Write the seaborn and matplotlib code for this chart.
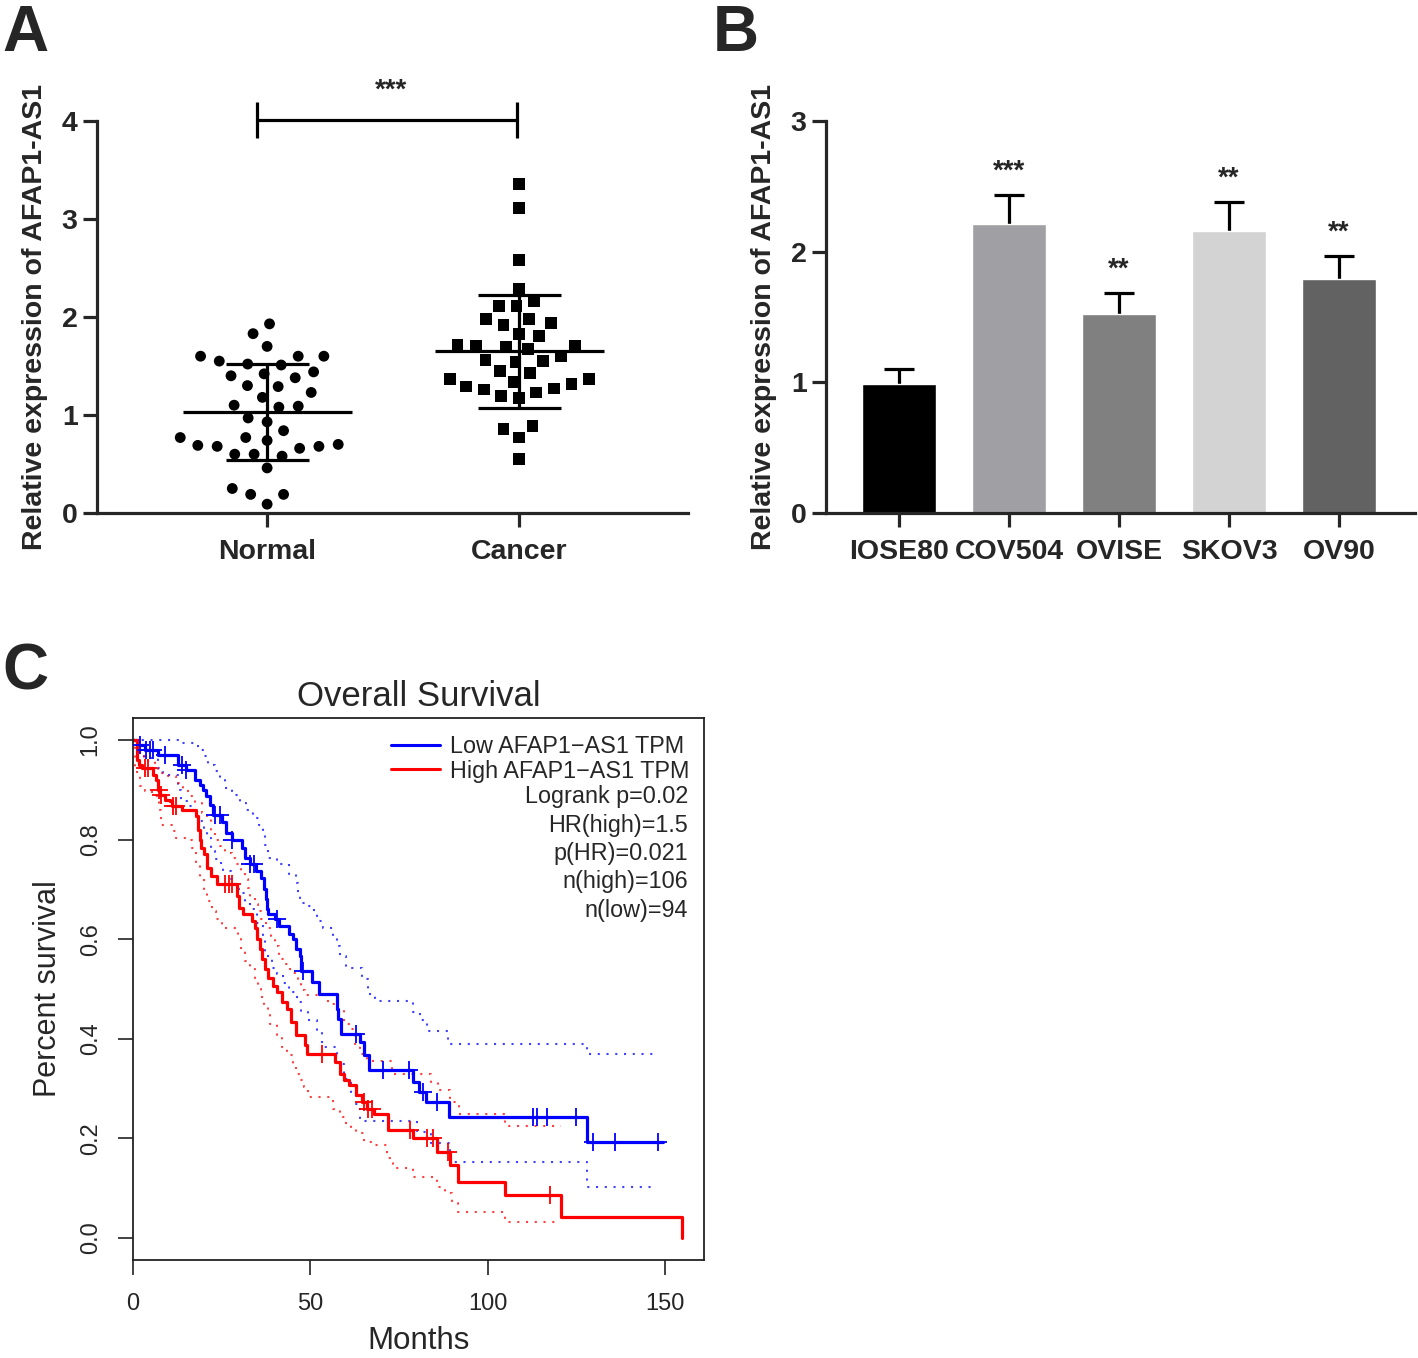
import matplotlib
matplotlib.use("Agg")
import matplotlib.pyplot as plt
from matplotlib.lines import Line2D
import seaborn as sns
import numpy as np
import pandas as pd

# ---- A: scatter, relative expression ----
normal_vals = [1.93, 1.83, 1.70, 1.55, 1.60, 1.60, 1.60, 1.52, 1.51, 1.42, 1.38, 1.44, 1.40,
               1.29, 1.30, 1.23, 1.18, 1.08, 1.09, 1.10, 0.93, 0.97, 0.84, 0.77, 0.74, 0.77,
               0.69, 0.68, 0.66, 0.68, 0.70, 0.58, 0.60, 0.60, 0.46, 0.25, 0.19, 0.19, 0.09]
cancer_vals = [3.36, 3.11, 2.58, 2.29, 2.11, 2.11, 2.16, 1.94, 1.98, 1.92, 1.98, 1.81, 1.83,
               1.71, 1.72, 1.67, 1.71, 1.69, 1.55, 1.54, 1.45, 1.60, 1.56, 1.37, 1.29, 1.34,
               1.26, 1.43, 1.32, 1.37, 1.27, 1.17, 1.19, 1.23, 0.89, 0.86, 0.77, 0.55]
groups = ["Normal", "Cancer"]

# ---- B: bars, cell lines ----
cell_lines = ["IOSE80", "COV504", "OVISE", "SKOV3", "OV90"]
cell_means = [0.99, 2.21, 1.52, 2.16, 1.79]
cell_sd = [0.11, 0.22, 0.16, 0.22, 0.18]
cell_colors = ["#000000", "#A0A0A4", "#808080", "#D3D3D3", "#626262"]
cell_stars = ["", "***", "**", "**", "**"]

# ---- C: Kaplan-Meier (months, survival) ----
low_t = [0, 1.5, 3.5, 7, 12.8, 15, 17.5, 19, 19.8, 20.6, 21.6, 22.6, 25, 26.3, 28, 30.6, 31.6,
         33, 34.6, 36, 37, 37.4, 37.8, 38.2, 40, 41.2, 44, 45, 46, 47, 47.4, 50.5, 52.5, 57.4,
         57.9, 58.6, 64, 65, 66.5, 79, 80.7, 82.5, 89, 128, 149.5]
low_s = [1.0, 0.99, 0.98, 0.97, 0.95, 0.94, 0.92, 0.91, 0.90, 0.887, 0.87, 0.85, 0.835, 0.814,
         0.80, 0.783, 0.763, 0.75, 0.737, 0.723, 0.70, 0.68, 0.66, 0.65, 0.64, 0.627, 0.61, 0.60,
         0.58, 0.566, 0.537, 0.514, 0.49, 0.46, 0.44, 0.41, 0.393, 0.367, 0.337, 0.313, 0.293,
         0.273, 0.243, 0.193, 0.193]
low_up_t = [0, 13, 18.4, 20, 21.2, 23, 24.5, 26, 28, 30.2, 32, 33.9, 35.5, 36.7, 37.2, 38.2,
            40.5, 44, 46, 46.6, 47.2, 48.5, 51, 52, 53.7, 56.5, 57.5, 58.5, 60, 64.5, 66.3,
            68.2, 79, 81, 82.8, 88.9, 128, 148]
low_up_s = [1.0, 0.993, 0.98, 0.967, 0.95, 0.937, 0.92, 0.903, 0.89, 0.873, 0.86, 0.843, 0.83,
            0.817, 0.79, 0.763, 0.75, 0.73, 0.713, 0.69, 0.673, 0.667, 0.653, 0.637, 0.622,
            0.603, 0.587, 0.567, 0.543, 0.52, 0.49, 0.475, 0.453, 0.437, 0.415, 0.39, 0.37, 0.37]
low_lo_t = [0, 1.5, 3, 7.1, 8.5, 10, 12.8, 13.6, 15.1, 16.5, 17.5, 19, 20, 20.8, 22, 23, 24.3,
            25.5, 27.5, 28.3, 29.5, 30.2, 31.6, 33, 35, 36.7, 37.3, 39.1, 40.5, 42.4, 44, 45.2,
            46.2, 47.5, 49.4, 52, 53.2, 57.5, 59.5, 61.5, 63, 64, 80, 84, 89.5, 128, 146]
low_lo_s = [1.0, 0.98, 0.963, 0.943, 0.933, 0.93, 0.90, 0.877, 0.867, 0.857, 0.847, 0.837,
            0.823, 0.803, 0.777, 0.76, 0.753, 0.737, 0.72, 0.71, 0.70, 0.693, 0.673, 0.66,
            0.633, 0.60, 0.567, 0.543, 0.53, 0.513, 0.50, 0.493, 0.473, 0.453, 0.437, 0.413,
            0.383, 0.35, 0.32, 0.29, 0.27, 0.235, 0.213, 0.19, 0.152, 0.102, 0.102]
low_cens = [2, 3.8, 4.7, 5.6, 9, 13.8, 15, 23, 24.5, 28, 33, 34, 40.5, 48, 63, 70.6, 77.9,
            81.8, 85.8, 112.9, 113.8, 116.6, 124.8, 129.8, 135.9, 148.1]

high_t = [0, 1, 1.6, 2.5, 5.5, 6.5, 7, 7.6, 9, 10.5, 11, 13.7, 17.7, 18.2, 18.8, 19.3, 20, 21,
          22, 23.6, 29.2, 30, 31, 33.5, 34.3, 35, 35.7, 36.5, 37.3, 38, 39.5, 40.5, 42, 43.5,
          44.5, 46, 48.5, 49.2, 57, 58.3, 59.5, 61, 63, 64.5, 66, 68, 72, 79, 85.8, 89.5, 91.7,
          105, 120.8, 154.7]
high_s = [1.0, 0.96, 0.95, 0.943, 0.93, 0.92, 0.90, 0.89, 0.88, 0.877, 0.867, 0.86, 0.847,
          0.82, 0.80, 0.783, 0.77, 0.743, 0.727, 0.71, 0.687, 0.663, 0.65, 0.637, 0.623, 0.60,
          0.58, 0.56, 0.54, 0.523, 0.507, 0.493, 0.473, 0.46, 0.433, 0.407, 0.387, 0.37, 0.353,
          0.33, 0.317, 0.307, 0.287, 0.273, 0.26, 0.25, 0.217, 0.20, 0.173, 0.147, 0.113,
          0.087, 0.043, 0.0]
high_up_t = [0, 1, 2, 3, 6.2, 7, 8, 10, 12, 14.2, 16, 17.5, 19.5, 20.8, 22, 23, 24.5, 25.9, 28,
             29, 30.5, 31.5, 32.3, 33, 34.4, 35.3, 36, 37.5, 38.8, 40, 41.3, 42.8, 44.3, 46.5,
             47.5, 48.5, 55, 57.4, 59.6, 61, 62.5, 64, 66, 73, 84, 86, 89.4, 92, 105, 120.8]
high_up_s = [1.0, 0.99, 0.97, 0.957, 0.95, 0.94, 0.933, 0.927, 0.913, 0.897, 0.887, 0.873,
             0.853, 0.843, 0.817, 0.80, 0.787, 0.773, 0.763, 0.75, 0.737, 0.72, 0.703, 0.683,
             0.67, 0.657, 0.64, 0.623, 0.607, 0.587, 0.56, 0.55, 0.533, 0.513, 0.497, 0.487,
             0.47, 0.46, 0.43, 0.42, 0.39, 0.37, 0.355, 0.33, 0.313, 0.297, 0.273, 0.25, 0.225,
             0.225]
high_lo_t = [0, 0.5, 2, 3.5, 5.3, 7.3, 8, 10.9, 12, 15, 16.5, 17.9, 19, 20, 21, 22.2, 23.5, 25,
             29.7, 30.5, 31.5, 33, 34.4, 35.3, 36, 37, 38.2, 38.6, 40.5, 42, 43.3, 45, 46, 47.2,
             48.3, 49.4, 56.5, 58.4, 60, 61.5, 63, 65, 67.7, 71.5, 73.3, 79, 85.6, 88, 90, 91.7,
             105, 120.8]
high_lo_s = [1.0, 0.935, 0.907, 0.897, 0.887, 0.86, 0.83, 0.817, 0.803, 0.80, 0.783, 0.75,
             0.72, 0.697, 0.677, 0.657, 0.64, 0.623, 0.60, 0.577, 0.557, 0.54, 0.523, 0.507,
             0.483, 0.463, 0.447, 0.43, 0.407, 0.383, 0.367, 0.347, 0.33, 0.317, 0.303, 0.283,
             0.26, 0.243, 0.227, 0.22, 0.21, 0.193, 0.187, 0.16, 0.14, 0.123, 0.103, 0.09, 0.07,
             0.053, 0.033, 0.033]
high_cens = [3.4, 4.2, 7.2, 8, 11.2, 12, 26, 27, 27.8, 53.2, 65, 66.4, 67.3, 78.1, 83, 84.7,
             88.9, 117.6]

km_stats = ["Logrank p=0.02", "HR(high)=1.5", "p(HR)=0.021", "n(high)=106", "n(low)=94"]

BLUE = "#0000FF"
RED = "#FF0000"

sns.set_style("ticks")
plt.rcParams["font.family"] = ["Liberation Sans", "DejaVu Sans"]

fig = plt.figure(figsize=(14.18, 13.58), dpi=100)
W, H = 1418, 1358


def px_axes(left, top, right, bottom):
    return fig.add_axes([left / W, 1 - bottom / H, (right - left) / W, (bottom - top) / H])


def gp_style(ax):
    """GraphPad-like bold axes."""
    sns.despine(ax=ax)
    for s in ("left", "bottom"):
        ax.spines[s].set_linewidth(2.3)
    ax.tick_params(width=2.3, length=10, labelsize=20.5, pad=4)
    for lab in ax.get_xticklabels() + ax.get_yticklabels():
        lab.set_fontweight("bold")


# ---- 图 A ----
axA = px_axes(97, 121, 688, 513)
# 不画边框, 但用 linewidth 加大点间距 (GraphPad 的散点更松)
sns.swarmplot(x=["Normal"] * len(normal_vals), y=normal_vals, order=groups, color="black",
              marker="o", size=7.8, edgecolor="none", linewidth=5.5, ax=axA)
sns.swarmplot(x=["Cancer"] * len(cancer_vals), y=cancer_vals, order=groups, color="black",
              marker="s", size=8.5, edgecolor="none", linewidth=4.0, ax=axA)
for i, vals in enumerate([normal_vals, cancer_vals]):
    m, sd = np.mean(vals), np.std(vals, ddof=1)
    axA.hlines(m, i - 0.335, i + 0.335, color="black", lw=2.3, zorder=5)
    axA.hlines([m - sd, m + sd], i - 0.165, i + 0.165, color="black", lw=2.3, zorder=5)
    axA.vlines(i, m - sd, m + sd, color="black", lw=2.3, zorder=5)
axA.plot([-0.04, 0.99], [4.01, 4.01], color="black", lw=2.3, clip_on=False)
axA.vlines([-0.04, 0.99], 3.83, 4.19, color="black", lw=2.3, clip_on=False)
axA.text(0.49, 4.18, "***", ha="center", va="bottom", fontsize=20, fontweight="bold")
axA.set_xlim(-0.675, 1.67)
axA.set_ylim(0, 4)
axA.set_yticks([0, 1, 2, 3, 4])
axA.set_xlabel("")
axA.set_ylabel("Relative expression of AFAP1-AS1", fontsize=20.5, fontweight="bold", labelpad=10)
gp_style(axA)
axA.tick_params(axis="x", pad=9)

# ---- 图 B ----
axB = px_axes(826, 121, 1415, 513)
xpos = np.arange(len(cell_lines))
axB.errorbar(xpos, cell_means, yerr=cell_sd, fmt="none", ecolor="black", elinewidth=2.3,
             capsize=11, capthick=2.3, zorder=0.5)
sns.barplot(x=cell_lines, y=cell_means, hue=cell_lines, palette=cell_colors, legend=False,
            width=0.667, errorbar=None, saturation=1, ax=axB, zorder=1)
for i, star in enumerate(cell_stars):
    if star:
        axB.text(i, cell_means[i] + cell_sd[i] + 0.08, star, ha="center", va="bottom",
                 fontsize=20, fontweight="bold")
axB.set_xlim(-0.664, 4.69)
axB.set_ylim(0, 3)
axB.set_yticks([0, 1, 2, 3])
axB.set_ylabel("Relative expression of AFAP1-AS1", fontsize=20.5, fontweight="bold", labelpad=10)
gp_style(axB)
axB.tick_params(axis="x", pad=9)

# ---- 图 C: 生存曲线 ----
axC = px_axes(133, 718, 704, 1260)


def km_line(t, s, color, **kw):
    sns.lineplot(x=t, y=s, drawstyle="steps-post", estimator=None, sort=False, color=color,
                 ax=axC, **kw)


dot = (0, (1, 3.2))
km_line(low_up_t, low_up_s, BLUE, lw=1.5, linestyle=dot, alpha=0.75)
km_line(low_lo_t, low_lo_s, BLUE, lw=1.5, linestyle=dot, alpha=0.75)
km_line(high_up_t, high_up_s, RED, lw=1.5, linestyle=dot, alpha=0.75)
km_line(high_lo_t, high_lo_s, RED, lw=1.5, linestyle=dot, alpha=0.75)
km_line(low_t, low_s, BLUE, lw=2.3)
km_line(high_t, high_s, RED, lw=2.3)


def censor_y(t, s, cens):
    idx = np.searchsorted(t, cens, side="right") - 1
    return np.asarray(s)[idx]


axC.scatter(low_cens, censor_y(low_t, low_s, low_cens), marker="+", s=170, color=BLUE, lw=1.3,
            zorder=4)
axC.scatter(high_cens, censor_y(high_t, high_s, high_cens), marker="+", s=170, color=RED, lw=1.3,
            zorder=4)

axC.set_xlim(0, 161)
axC.set_ylim(-0.044, 1.044)
axC.set_xticks([0, 50, 100, 150])
axC.set_yticks([0.0, 0.2, 0.4, 0.6, 0.8, 1.0])
axC.set_yticklabels(["0.0", "0.2", "0.4", "0.6", "0.8", "1.0"], rotation=90, va="center")
for s in axC.spines.values():
    s.set_linewidth(1.3)
    s.set_color("#222222")
axC.tick_params(length=10.5, width=1.2, labelsize=17, color="#222222")
axC.tick_params(axis="x", pad=13)
axC.tick_params(axis="y", pad=12)
axC.set_title("Overall Survival", fontsize=25, pad=9)
axC.set_xlabel("Months", fontsize=22.5, labelpad=8)
axC.set_ylabel("Percent survival", fontsize=22, labelpad=12)

handles = [Line2D([], [], color=BLUE, lw=2.2), Line2D([], [], color=RED, lw=2.2)]
axC.legend(handles, ["Low AFAP1\u2212AS1 TPM", "High AFAP1\u2212AS1 TPM"], loc="upper right",
           bbox_to_anchor=(0.99, 0.985), frameon=False, fontsize=16.8, handlelength=2.1,
           handletextpad=0.4, labelspacing=0.05, borderaxespad=0)
axC.text(0.972, 0.876, "\n".join(km_stats), transform=axC.transAxes, ha="right", va="top",
         multialignment="right", fontsize=16.8, linespacing=1.3)

# ---- 面板字母 ----
for x, y, letter in [(2, 4, "A"), (713, 4, "B"), (2, 642, "C")]:
    fig.text(x / W, 1 - y / H, letter, fontsize=46, fontweight="bold", ha="left", va="top")

fig.savefig("out.png", dpi=100, facecolor="white")
